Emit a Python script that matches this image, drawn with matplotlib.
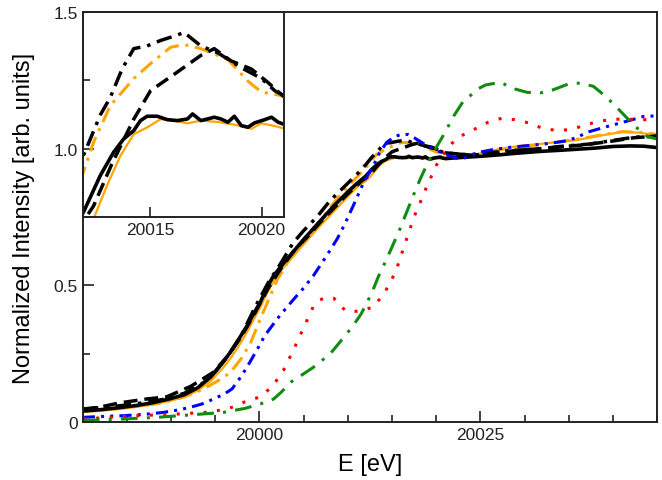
import matplotlib
matplotlib.use("Agg")
import matplotlib.pyplot as plt
from matplotlib.ticker import MultipleLocator, FuncFormatter, FixedLocator

plt.rcParams['font.family'] = ['Liberation Sans', 'DejaVu Sans']

# ---- data ----
black_solid_E = [19980, 19982, 19984, 19986, 19988, 19990, 19991.5, 19993, 19994.5, 19995.8,
                 19996.7, 19997.6, 19998.6, 19999.4, 20000.1, 20000.8, 20001.6, 20002.7, 20003.8, 20005.0,
                 20006.5, 20008.4, 20010.0, 20011.0, 20012.03, 20012.78, 20013.38, 20013.83, 20014.28, 20014.58,
                 20014.88, 20015.33, 20015.78, 20016.23, 20016.68, 20016.91, 20017.28, 20017.58, 20017.88, 20018.18,
                 20018.49, 20018.78, 20019.09, 20019.39, 20019.68, 20020.14, 20020.44, 20020.74, 20021.07, 20022.0,
                 20023.5, 20025, 20027, 20029, 20031.8, 20034, 20036, 20038, 20040, 20042, 20043.5, 20045]
black_solid_v = [0.040, 0.045, 0.052, 0.060, 0.071, 0.086, 0.100, 0.125, 0.165, 0.215,
                 0.255, 0.300, 0.352, 0.400, 0.438, 0.490, 0.535, 0.580, 0.622, 0.668,
                 0.722, 0.790, 0.842, 0.872, 0.8995, 0.9264, 0.9437, 0.9535, 0.9596, 0.967,
                 0.9702, 0.9702, 0.9677, 0.967, 0.9682, 0.9719, 0.967, 0.9682, 0.9695, 0.9682,
                 0.9658, 0.9702, 0.9633, 0.9621, 0.9653, 0.9677, 0.9695, 0.9658, 0.9638, 0.966,
                 0.969, 0.972, 0.977, 0.983, 0.990, 0.994, 0.998, 1.002, 1.008, 1.010, 1.009, 1.004]

orange_solid_E = [19980, 19982, 19984, 19986, 19988, 19990, 19991.5, 19993, 19994.5, 19995.8,
                  19996.7, 19997.6, 19998.6, 19999.4, 20000.1, 20000.8, 20001.6, 20002.7, 20003.8, 20005.0,
                  20006.5, 20008.4, 20010.0, 20011.0, 20012.0, 20012.48, 20013.08, 20013.68, 20014.28, 20014.88,
                  20015.48, 20016.08, 20016.68, 20017.28, 20018.03, 20018.78, 20019.54, 20019.99, 20020.59, 20021.04,
                  20022, 20024, 20026, 20028, 20030, 20032, 20034, 20035.6, 20037, 20039, 20041.2, 20043, 20045]
orange_solid_v = [0.036, 0.041, 0.047, 0.055, 0.065, 0.078, 0.092, 0.115, 0.150, 0.195,
                  0.232, 0.275, 0.330, 0.378, 0.420, 0.468, 0.515, 0.565, 0.605, 0.650,
                  0.705, 0.770, 0.825, 0.858, 0.882, 0.8945, 0.919, 0.941, 0.957, 0.962,
                  0.968, 0.967, 0.965, 0.967, 0.966, 0.964, 0.961, 0.965, 0.963, 0.961,
                  0.963, 0.975, 0.990, 1.003, 1.012, 1.018, 1.025, 1.030, 1.038, 1.050, 1.062, 1.058, 1.050]

orange_dashdot_E = [19980, 19983, 19986, 19989, 19991.5, 19993.5, 19995, 19996.7, 19998, 19999,
                    20000.1, 20001, 20002, 20003.5, 20005, 20006.5, 20008, 20009.5, 20011, 20012.03,
                    20012.48, 20013.23, 20014.28, 20015.03, 20015.93, 20016.53, 20017.28, 20018.49, 20019.39, 20019.99,
                    20021.04, 20022, 20023.5, 20025, 20027, 20029, 20031, 20033, 20035, 20037, 20039, 20041, 20043, 20045]
orange_dashdot_v = [0.040, 0.046, 0.056, 0.070, 0.092, 0.118, 0.145, 0.180, 0.235, 0.290,
                    0.377, 0.445, 0.520, 0.600, 0.660, 0.720, 0.785, 0.845, 0.895, 0.929,
                    0.951, 0.978, 0.998, 1.009, 1.021, 1.023, 1.020, 1.012, 0.996, 0.988,
                    0.985, 0.978, 0.975, 0.983, 0.995, 1.005, 1.012, 1.020, 1.030, 1.040, 1.052, 1.062, 1.060, 1.052]

black_dashdot_E = [19980, 19983, 19986, 19989, 19991.5, 19993.5, 19995, 19996.5, 19998, 19999.5,
                   20001, 20002.5, 20003.8, 20005, 20006.5, 20008, 20010.3, 20011.3, 20012.1, 20012.78,
                   20013.23, 20013.76, 20014.28, 20014.88, 20015.48, 20016.23, 20016.53, 20017.28, 20018.03, 20019.09,
                   20019.99, 20020.59, 20021.04, 20022.4, 20024, 20026, 20028, 20030, 20031.8, 20034,
                   20037.4, 20040, 20042.4, 20045]
black_dashdot_v = [0.048, 0.055, 0.066, 0.082, 0.105, 0.140, 0.185, 0.245, 0.320, 0.420,
                   0.510, 0.585, 0.655, 0.700, 0.750, 0.810, 0.883, 0.915, 0.944, 0.971,
                   0.984, 1.005, 1.020, 1.022, 1.026, 1.030, 1.032, 1.022, 1.017, 1.006,
                   0.998, 0.989, 0.985, 0.980, 0.978, 0.985, 0.992, 0.996, 0.999, 1.008,
                   1.017, 1.030, 1.042, 1.045]

black_dashed_E = [19980, 19982, 19984.2, 19987.2, 19989.5, 19992.2, 19994.8, 19996.5, 19998, 19999.5,
                  20001, 20002.5, 20004, 20005.5, 20007, 20008.5, 20010, 20011.5, 20012.48, 20013.3,
                  20014.28, 20015.03, 20016.08, 20017.28, 20017.88, 20018.63, 20019.54, 20020.29, 20020.96, 20022,
                  20024, 20026, 20028, 20031, 20034, 20037, 20040, 20042.4, 20045]
black_dashed_v = [0.045, 0.055, 0.070, 0.084, 0.092, 0.130, 0.182, 0.245, 0.315, 0.400,
                  0.490, 0.565, 0.630, 0.680, 0.735, 0.785, 0.835, 0.880, 0.904, 0.935,
                  0.968, 0.989, 1.001, 1.015, 1.020, 1.011, 1.005, 0.995, 0.985, 0.982,
                  0.976, 0.982, 0.990, 0.998, 1.006, 1.015, 1.028, 1.040, 1.046]

blue_E = [19980, 19982, 19984.6, 19987, 19989.1, 19991, 19992.2, 19993.5, 19994.8, 19996,
          19996.9, 19998, 19998.9, 20000, 20000.6, 20001.5, 20002.3, 20003.9, 20005, 20006.1,
          20007.6, 20008.8, 20009.6, 20010.6, 20011.8, 20012.9, 20013.6, 20014.4, 20015.2, 20016,
          20016.8, 20017.5, 20018.5, 20019.7, 20021, 20022, 20022.8, 20023.6, 20024.6, 20026.5,
          20028.4, 20031, 20033, 20034.8, 20036, 20037.1, 20039, 20041.2, 20043.5, 20045]
blue_v = [0.017, 0.020, 0.023, 0.028, 0.035, 0.045, 0.054, 0.066, 0.084, 0.102,
          0.121, 0.170, 0.218, 0.280, 0.316, 0.355, 0.389, 0.450, 0.490, 0.535,
          0.608, 0.670, 0.720, 0.790, 0.877, 0.938, 0.985, 1.023, 1.042, 1.052,
          1.052, 1.040, 1.020, 0.999, 0.980, 0.968, 0.962, 0.970, 0.985, 0.997,
          1.005, 1.013, 1.020, 1.029, 1.042, 1.060, 1.078, 1.097, 1.118, 1.120]

red_E = [19980, 19983, 19986.1, 19988.5, 19990.6, 19993.8, 19995.5, 19996.9, 19998.2, 19999.9,
         20001.4, 20002.7, 20003.9, 20005.1, 20006.1, 20006.7, 20007.5, 20008.4, 20009.1, 20009.7,
         20011, 20012.9, 20014.2, 20015.4, 20016.4, 20017.1, 20017.7, 20018.5, 20018.9, 20020,
         20020.8, 20021.8, 20022.9, 20024.4, 20025.9, 20027.4, 20028.9, 20030.5, 20032, 20033.7,
         20035.2, 20036.7, 20038.2, 20039.7, 20041.2, 20042.7, 20045]
red_v = [0.011, 0.017, 0.023, 0.026, 0.029, 0.035, 0.043, 0.054, 0.072, 0.090,
         0.127, 0.188, 0.267, 0.352, 0.423, 0.445, 0.455, 0.453, 0.432, 0.407,
         0.405, 0.420, 0.475, 0.548, 0.645, 0.712, 0.767, 0.826, 0.859, 0.938,
         0.980, 1.020, 1.048, 1.072, 1.097, 1.111, 1.106, 1.094, 1.075, 1.066,
         1.070, 1.084, 1.099, 1.106, 1.109, 1.106, 1.106]

green_E = [19980, 19982, 19984.6, 19988.4, 19992.2, 19995.9, 19998.4, 20000.1, 20001.6, 20002.5,
           20003.5, 20004.8, 20006.1, 20008, 20009.1, 20010.6, 20011.5, 20012.2, 20012.9, 20013.5,
           20014.4, 20015.9, 20016.8, 20017.4, 20018.2, 20018.9, 20019.8, 20020.8, 20022, 20023.1,
           20023.9, 20024.8, 20025.6, 20027.3, 20028.6, 20030.3, 20031.8, 20033.3, 20035, 20036.3,
           20037.8, 20039.3, 20040.8, 20042.5, 20043.9, 20045]
green_v = [0.005, 0.008, 0.011, 0.017, 0.026, 0.035, 0.050, 0.066, 0.084, 0.110,
           0.145, 0.172, 0.200, 0.249, 0.292, 0.352, 0.395, 0.438, 0.487, 0.535,
           0.596, 0.706, 0.779, 0.828, 0.889, 0.938, 0.993, 1.048, 1.120, 1.175,
           1.195, 1.220, 1.233, 1.243, 1.221, 1.206, 1.204, 1.216, 1.237, 1.240,
           1.228, 1.188, 1.139, 1.082, 1.045, 1.035]

x_major_ticks = [20000, 20025]
inset_x_ticks = [20015, 20020]

# (E, value, style, shown in inset)
series = [
    (orange_solid_E, orange_solid_v, dict(color='#FFA500', lw=1.6, ls='-'), True),
    (orange_dashdot_E, orange_dashdot_v, dict(color='#FFA500', lw=2.2, dashes=(5, 2.2, 1, 2.2)), True),
    (black_dashed_E, black_dashed_v, dict(color='black', lw=2.5, dashes=(4, 2)), True),
    (black_dashdot_E, black_dashdot_v, dict(color='black', lw=2.5, dashes=(4.5, 2, 1, 2)), True),
    (black_solid_E, black_solid_v, dict(color='black', lw=2.6, ls='-'), True),
    (blue_E, blue_v, dict(color='#0000FF', lw=2.2, dashes=(4, 2, 1, 2, 1, 2)), False),
    (red_E, red_v, dict(color='#FF0000', lw=2.2, dashes=(1, 3.4)), False),
    (green_E, green_v, dict(color='#108C10', lw=2.2, dashes=(5.5, 3, 1, 3)), False),
]

fig = plt.figure(figsize=(6.62, 4.81), dpi=100)
ax = fig.add_axes([0.125, 0.1206, 0.8675, 0.8524])
for E, v, st, _ in series:
    ax.plot(E, v, **st)

ax.set_xlim(19980, 20045)
ax.set_ylim(0, 1.5)
ax.xaxis.set_major_locator(FixedLocator(x_major_ticks))
ax.xaxis.set_minor_locator(MultipleLocator(5))
ax.yaxis.set_major_locator(MultipleLocator(0.5))
ax.yaxis.set_minor_locator(MultipleLocator(0.25))
ax.yaxis.set_major_formatter(FuncFormatter(lambda y, p: '0' if abs(y) < 1e-9 else f'{y:.1f}'))
ax.tick_params(which='both', direction='in', top=False, right=False, labelsize=12.5, colors='#222222')
ax.tick_params(which='major', length=8, width=1.2)
ax.tick_params(which='minor', length=5, width=1.2)
for s in ax.spines.values():
    s.set_linewidth(1.4)
    s.set_color('#222222')
ax.set_xlabel('E [eV]', fontsize=17, labelpad=8)
ax.set_ylabel('Normalized Intensity [arb. units]', fontsize=17, labelpad=13)

ins = fig.add_axes([0.125, 0.5468, 0.304, 0.4262])
ins.patch.set_alpha(0)
for E, v, st, show in series:
    if show:
        ins.plot(E, v, **st)
ins.set_xlim(20012, 20021)
ins.set_ylim(0.896, 1.047)
ins.xaxis.set_major_locator(FixedLocator(inset_x_ticks))
ins.set_yticks([])
ins.tick_params(axis='x', direction='in', length=7, width=1.2, labelsize=12.5, colors='#222222')
for s in ins.spines.values():
    s.set_linewidth(1.4)
    s.set_color('#222222')

fig.savefig('out.png', dpi=100)
